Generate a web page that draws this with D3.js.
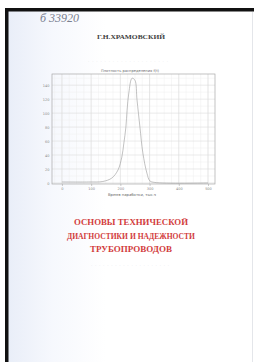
<!DOCTYPE html>
<html>
<head>
<meta charset="utf-8">
<script src="https://cdn.jsdelivr.net/npm/d3@7"></script>
<style>
  html, body { margin: 0; padding: 0; background: #fff; }
  svg { display: block; }
</style>
</head>
<body>
<div id="cover"></div>
<script>
// values
const timeVals    = [0, 96, 140, 171, 192, 205, 212, 219, 223, 229, 240, 250, 257, 267, 277, 291, 301, 318, 500];
const densityVals = [1.4, 1.4, 2.1, 7.1, 18.6, 37, 57, 80, 104, 129, 150, 147, 119, 80, 43, 14, 3, 0.7, 0];
const xTicks = [0, 100, 200, 300, 400, 500];
const yTicks = [0, 20, 40, 60, 80, 100, 120, 140];
const author = 'Г.Н.ХРАМОВСКИЙ';
const chartTitle = 'Плотность распределения  f(t)';
const xLabel = 'Время наработки, тыс.ч';
const titleLines = ['ОСНОВЫ ТЕХНИЧЕСКОЙ', 'ДИАГНОСТИКИ И НАДЕЖНОСТИ', 'ТРУБОПРОВОДОВ'];

const W = 254, H = 362;
const svg = d3.select('#cover').append('svg')
  .attr('width', W)
  .attr('height', H);

// page tint, left is a bit bluish on the scan
const defs = svg.append('defs');
const grad = defs.append('linearGradient').attr('id', 'pageTint');
grad.append('stop').attr('offset', '0%').attr('stop-color', '#e9eef8');
grad.append('stop').attr('offset', '18%').attr('stop-color', '#f6f8fd');
grad.append('stop').attr('offset', '40%').attr('stop-color', '#ffffff');

svg.append('rect').attr('x', 8).attr('y', 11).attr('width', 244).attr('height', H - 11)
  .attr('fill', 'url(#pageTint)');

// black scan edges
svg.append('rect').attr('x', 5).attr('y', 8).attr('width', W - 5).attr('height', 3.5).attr('fill', '#111');
svg.append('rect').attr('x', 5).attr('y', 8).attr('width', 3.5).attr('height', H - 8).attr('fill', '#111');
svg.append('line').attr('x1', 252.5).attr('x2', 252.5).attr('y1', 12).attr('y2', H)
  .attr('stroke', '#e4e6ea').attr('stroke-width', 1);

// handwritten inventory number
svg.append('text')
  .attr('x', 40).attr('y', 22)
  .style('font-family', 'Liberation Serif')
  .style('font-style', 'italic')
  .style('font-size', '12px')
  .style('fill', '#7a8090')
  .text('б 33920');

svg.append('text')
  .attr('x', 131).attr('y', 38.5)
  .attr('text-anchor', 'middle')
  .attr('textLength', 68)
  .attr('lengthAdjust', 'spacingAndGlyphs')
  .style('font-family', 'Liberation Serif')
  .style('font-weight', 'bold')
  .style('font-size', '6.5px')
  .style('fill', '#404040')
  .text(author);

// faint bleed-through line above the chart
svg.append('text')
  .attr('x', 128).attr('y', 62)
  .attr('text-anchor', 'middle')
  .attr('textLength', 80)
  .style('font-family', 'DejaVu Sans')
  .style('font-size', '4px')
  .style('fill', '#e2e2e6')
  .text('. . . . . . . . . . . . . . . . . . . .');

// chart
const x = d3.scaleLinear().domain([-34, 524]).range([52, 215]);
const y = d3.scaleLinear().domain([-1.5, 156]).range([184, 74]);

const g = svg.append('g');

// minor grid
g.selectAll('line.vminor')
  .data(d3.range(-25, 524, 25))
  .enter().append('line')
  .attr('class', 'vminor')
  .attr('x1', d => x(d)).attr('x2', d => x(d))
  .attr('y1', y.range()[0]).attr('y2', y.range()[1])
  .attr('stroke', '#efefef').attr('stroke-width', 0.5);

g.selectAll('line.hminor')
  .data(d3.range(10, 156, 20))
  .enter().append('line')
  .attr('class', 'hminor')
  .attr('x1', x.range()[0]).attr('x2', x.range()[1])
  .attr('y1', d => y(d)).attr('y2', d => y(d))
  .attr('stroke', '#efefef').attr('stroke-width', 0.5);

// major grid
g.selectAll('line.vmajor')
  .data(xTicks)
  .enter().append('line')
  .attr('class', 'vmajor')
  .attr('x1', d => x(d)).attr('x2', d => x(d))
  .attr('y1', y.range()[0]).attr('y2', y.range()[1])
  .attr('stroke', '#dcdcdc').attr('stroke-width', 0.6);

g.selectAll('line.hmajor')
  .data(yTicks)
  .enter().append('line')
  .attr('class', 'hmajor')
  .attr('x1', x.range()[0]).attr('x2', x.range()[1])
  .attr('y1', d => y(d)).attr('y2', d => y(d))
  .attr('stroke', '#dcdcdc').attr('stroke-width', 0.6);

// frame
g.append('rect')
  .attr('x', 52).attr('y', 74).attr('width', 163).attr('height', 110)
  .attr('fill', 'none').attr('stroke', '#a8a8a8').attr('stroke-width', 0.7);

// axes, labels only
const xAxis = g.append('g')
  .attr('transform', 'translate(0,184)')
  .call(d3.axisBottom(x).tickValues(xTicks).tickSize(2).tickPadding(1.5));
const yAxis = g.append('g')
  .attr('transform', 'translate(52,0)')
  .call(d3.axisLeft(y).tickValues(yTicks).tickSize(0).tickPadding(2.5));

[xAxis, yAxis].forEach(a => {
  a.select('.domain').remove();
  a.selectAll('line').attr('stroke', '#999').attr('stroke-width', 0.5);
  a.selectAll('text')
    .style('font-family', 'DejaVu Sans')
    .style('font-size', '3.5px')
    .style('fill', '#888');
});

// the density curve
const line = d3.line()
  .x((d, i) => x(timeVals[i]))
  .y(d => y(d))
  .curve(d3.curveCatmullRom.alpha(0.5));

g.append('path')
  .datum(densityVals)
  .attr('d', line)
  .attr('fill', 'none')
  .attr('stroke', '#999')
  .attr('stroke-width', 0.6);

g.append('text')
  .attr('x', 130).attr('y', 72)
  .attr('text-anchor', 'middle')
  .attr('textLength', 58)
  .style('font-family', 'DejaVu Sans')
  .style('font-size', '3.6px')
  .style('fill', '#666')
  .text(chartTitle);

g.append('text')
  .attr('x', 132).attr('y', 196)
  .attr('text-anchor', 'middle')
  .attr('textLength', 48)
  .style('font-family', 'DejaVu Sans')
  .style('font-size', '3.8px')
  .style('fill', '#666')
  .text(xLabel);

// red title
const titleY = [225, 238.5, 252];
const titleW = [114, 128, 82];
svg.selectAll('text.title')
  .data(titleLines)
  .enter().append('text')
  .attr('class', 'title')
  .attr('x', 131)
  .attr('y', (d, i) => titleY[i])
  .attr('text-anchor', 'middle')
  .attr('textLength', (d, i) => titleW[i])
  .attr('lengthAdjust', 'spacingAndGlyphs')
  .style('font-family', 'Liberation Serif')
  .style('font-weight', 'bold')
  .style('font-size', '8px')
  .style('fill', '#d23c3c')
  .text(d => d);

// faint dotted bleed below the title
svg.append('text')
  .attr('x', 130).attr('y', 266)
  .attr('text-anchor', 'middle')
  .attr('textLength', 78)
  .style('font-family', 'DejaVu Sans')
  .style('font-size', '4px')
  .style('fill', '#d6dbe6')
  .text('. . . . . . . . . . . . . . . . . . . .');
</script>
</body>
</html>
